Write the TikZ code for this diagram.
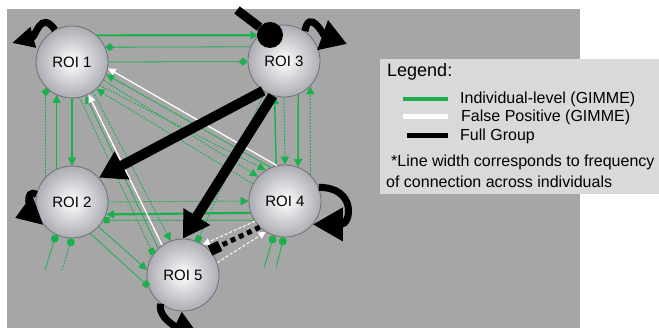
\documentclass[tikz,border=0pt]{standalone}
\usepackage{fontspec}
\setmainfont{Liberation Sans}
\usetikzlibrary{arrows.meta}
\definecolor{bggray}{RGB}{166,166,166}
\definecolor{leggray}{RGB}{217,217,217}
\definecolor{gr}{RGB}{26,176,78}
\definecolor{ballout}{RGB}{172,172,180}
\definecolor{rimcol}{RGB}{112,112,118}
\begin{document}
\begin{tikzpicture}[x=1pt,y=1pt,
  roi/.style={circle,minimum size=72pt,inner sep=0pt,draw=rimcol,line width=0.8pt,inner color=white,outer color=ballout,font=\fontsize{15}{15}\selectfont},
  gbase/.style={draw=gr},
  gthick/.style={gbase,line width=2.2pt},
  gmid/.style={gbase,line width=1.4pt},
  gthin/.style={gbase,line width=0.8pt},
  gdot/.style={gbase,line width=1pt,dash pattern=on 1.6pt off 1.4pt},
  gtri/.style={-{Triangle[length=8pt,width=8pt]}},
  gdia/.style={-{Diamond[length=9pt,width=8pt]}},
  gsq/.style={-{Square[length=6pt,width=6pt]}},
  gdotend/.style={-{Circle[length=8pt]}},
  wline/.style={draw=white,line width=1.3pt,-{Triangle[length=8pt,width=7pt]}},
  wdash/.style={draw=white,line width=1pt,dash pattern=on 3pt off 2pt,-{Triangle[length=7pt,width=7pt]}},
  fgarrow/.style={draw=black,line width=10pt,-{Triangle[length=26pt,width=30pt]}},
  fgloop/.style={draw=black,line width=7pt},
  fgdots/.style={draw=black,line width=5pt,dash pattern=on 5pt off 4pt,-{Square[length=11pt,width=11pt]}},
  legtext/.style={anchor=west,inner sep=0pt,font=\fontsize{16}{16}\selectfont},
]
\useasboundingbox (0,0) rectangle (659,328);
\clip (0,0) rectangle (659,328);
\fill[white] (0,0) rectangle (659,328);
\fill[bggray] (7,0) rectangle (580,319);
\fill[leggray] (380,134) rectangle (659,269);

% nodes
\node[roi] (r1) at (72,266) {ROI 1};
\node[roi] (r3) at (284,267) {ROI 3};
\node[roi] (r2) at (72,126) {ROI 2};
\node[roi] (r4) at (285,127) {ROI 4};
\node[roi] (r5) at (183,53) {ROI 5};

% free ends
\coordinate (e1) at (45,58);
\coordinate (e2) at (62,58);
\coordinate (e3) at (264,60);
\coordinate (e4) at (276,60);
\coordinate (l1) at (12,285);
\coordinate (l3) at (347,284);
\coordinate (l2) at (15,110);
\coordinate (t3) at (237,318);

% green: ROI1 - ROI3
\draw[gthick,gtri] (r1.47) -- (r3.135);
\draw[gthin,gdia] (r3.157) -- (r1.24);
\draw[gthin,gdia] (r1.0) -- (r3.181);
% ROI1 - ROI2
\draw[gdot,gdia] (r2.136) -- (r1.224);
\draw[gmid,gtri] (r2.115) -- (r1.245);
\draw[gmid,gtri] (r1.270) -- (r2.90);
% ROI3 - ROI4
\draw[gmid,gtri] (r4.104) -- (r3.255);
\draw[gdot,gtri] (r3.270) -- (r4.90);
\draw[gmid,gtri] (r3.293) -- (r4.69);
\draw[gdot,gtri] (r4.46) -- (r3.316);
% ROI2 - ROI4
\draw[gdot,gtri] (r2.0) -- (r4.180);
\draw[gthick,gtri] (r4.199) -- (r2.340);
\draw[gthin,gsq] (r4.212) -- (r2.330);
% ROI2 - ROI5
\draw[gthin,gtri] (r2.317) -- (r5.172);
\draw[gthin,gsq] (r2.300) -- (r5.198);
% ROI1 - ROI5
\draw[gdot,gsq] (r1.282) -- (r5.145);
\draw[gthin,gtri] (r5.133) -- (r1.292);
\draw[gdot,gtri] (r1.305) -- (r5.110);
% ROI1 - ROI4
\draw[gthin,gtri] (r4.113) -- (r1.340);
\draw[gdot,gtri] (r1.330) -- (r4.138);
\draw[gdot,gtri] (r1.320) -- (r4.122);
\draw[gdot,gtri] (r4.152) -- (r1.312);
% ROI3 - ROI5
\draw[gdot,gsq] (r3.238) -- (r5.67);
% dangling dots
\draw[gthin,gdotend] (e1) -- (r2.244);
\draw[gdot,gdotend] (e2) -- (r2.270);
\draw[gthin,gdotend] (e3) -- (r4.252);
\draw[gthin,gdotend] (e4) -- (r4.268);

% white (false positive)
\draw[wline] (r4.103) -- (r1.350);
\draw[wline] (r5.125) -- (r1.297);
\draw[wdash] (r4.214) -- (r5.57);
\draw[wdash] (r5.20) -- (r4.238);

% black (full group)
\node[circle,fill=black,minimum size=26pt,inner sep=0pt] (c3) at (270,293) {};
\draw[black,line width=9pt] (t3) -- (c3);
\draw[fgarrow] (r3.235) -- (r2.42);
\draw[fgarrow] (r3.252) -- (r5.90);
\draw[fgdots] (r4.226) -- (r5.42);
\draw[fgloop,-{Triangle[length=22pt,width=20pt]}] (r1.118) to[out=125,in=15,looseness=1.4] (l1);
\draw[fgloop,-{Triangle[length=26pt,width=30pt]}] (r3.55) to[out=80,in=160,looseness=1.4] (l3);
\draw[fgloop,-{Triangle[length=24pt,width=30pt]}] (r2.168) to[out=150,in=20,looseness=1.1] (l2);
\draw[fgloop,-{Triangle[length=30pt,width=32pt]}] (r4.22) to[out=0,in=0,looseness=2.6] (r4.320);
\draw[fgloop,-{Triangle[length=24pt,width=26pt]}] (r5.232) to[out=260,in=275,looseness=2] (r5.268);

% legend
\node[anchor=west,inner sep=0pt,font=\fontsize{18}{18}\selectfont] (lg0) at (387,256) {Legend:};
\draw[gr,line width=4pt] (403,229) -- (448,229);
\draw[white,line width=5pt] (403,211) -- (448,211);
\draw[black,line width=5pt] (407,192) -- (448,192);
\node[legtext] (lg1) at (460,229) {Individual-level (GIMME)};
\node[legtext] (lg2) at (461,211) {False Positive (GIMME)};
\node[legtext] (lg3) at (460,192) {Full Group};
\node[legtext] (lg4) at (391,166) {*Line width corresponds to frequency};
\node[legtext] (lg5) at (386,146) {of connection across individuals};
\end{tikzpicture}
\end{document}
